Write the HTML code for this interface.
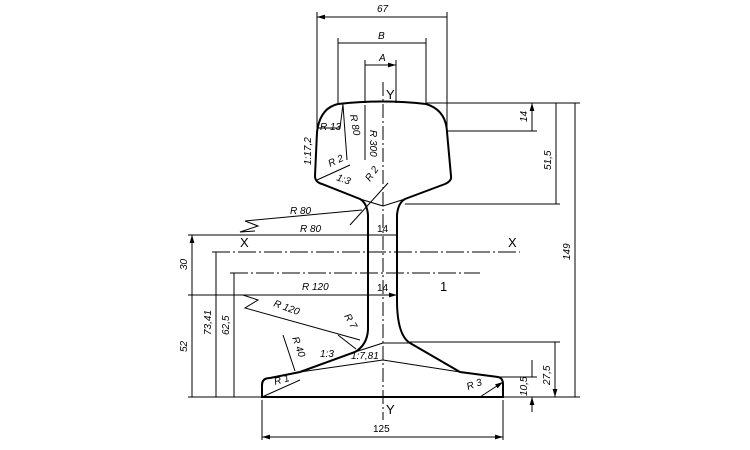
<!DOCTYPE html>
<html><head><style>body{margin:0;background:#fff}svg{display:block}</style></head><body>
<svg width="750" height="450" viewBox="0 0 750 450" xmlns="http://www.w3.org/2000/svg" font-family="Liberation Sans, sans-serif" font-size="10" fill="none" stroke="#000">
<defs><marker id="a" viewBox="0 0 10 6" refX="10" refY="3" markerWidth="8" markerHeight="5" orient="auto-start-reverse"><path d="M0,0L10,3L0,6Z" fill="#000" stroke="none"/></marker></defs>
<path stroke-width="2" d="M338,104 Q383,99 426,104 Q446,110 447,132 L451,176 Q452,181 445,184 L405,199 Q398,203 397,215 L397,300 Q397,335 410,343 L460,372 L498,377 Q503,378 503,384 L503,397 L262,397 L262,385 Q262,378 270,378 L300,372 L355,352 Q367,345 368,330 L368,215 Q367,203 360,199 L322,184 Q315,182 315,176 L317,132 Q320,108 338,104 Z"/>
<g stroke-width="1">
<path d="M300,372 L383,360 L460,372 M355,352 L383,343 L410,343 M360,199 L383,206 L405,199"/>
<path stroke-dasharray="14,3,2,3" d="M383,82 V420"/>
<path stroke-dasharray="18,3,2,3" d="M212,252 H520 M230,273 H480"/>
<path d="M317,12 V130 M447,12 V130 M338,38 V104 M426,38 V104 M365,60 V103 M396,60 V103"/>
<path marker-start="url(#a)" marker-end="url(#a)" d="M317,17 H447 M338,43 H426 M365,65 H396"/>
<path d="M426,103 H580 M447,131 H537 M405,204 H560 M410,342 H560 M498,377 H537 M503,397 H580"/>
<path marker-start="url(#a)" marker-end="url(#a)" d="M532,103 V131 M556,103 V204 M575,103 V397 M555,342 V397"/>
<path marker-end="url(#a)" d="M532,360 V377 M532,412 V397"/>
<path d="M188,235 H368 M188,295 H368 M188,397 H262"/>
<path marker-start="url(#a)" marker-end="url(#a)" d="M192,235 V295 M192,295 V397 M216,252 V397 M234,273 V397 M368,235 H397 M368,295 H397"/>
<path d="M262,400 V440 M503,400 V440"/>
<path marker-start="url(#a)" marker-end="url(#a)" d="M262,437 H503"/>
<path d="M245,221 L258,226 L240,232 L255,231 M245,221 L362,210"/>
<path d="M243,295 L258,300 L245,308 L360,340"/>
<path marker-end="url(#a)" d="M317,128 H340 M340,128 L343,104 M347,160 L343,105 M365,160 V105 M317,180 L350,165 M350,225 L388,183 M338,335 L356,349 M283,335 L295,371 M262,397 L300,380 M480,397 L503,382"/>
</g>
<g fill="#000" stroke="none" font-style="italic">
<text x="377" y="12">67</text><text x="378" y="39">B</text><text x="379" y="61">A</text>
<text x="320" y="130">R 13</text>
<text transform="translate(350,115) rotate(80)">R 80</text>
<text transform="translate(370,130) rotate(90)">R 300</text>
<text transform="translate(311,165) rotate(-90)">1:17,2</text>
<text transform="translate(330,167) rotate(-25)">R 2</text>
<text transform="translate(336,180) rotate(20)">1:3</text>
<text transform="translate(370,182) rotate(-55)">R 2</text>
<text x="290" y="214">R 80</text><text x="300" y="232">R 80</text>
<text x="302" y="290">R 120</text><text transform="translate(273,306) rotate(20)">R 120</text>
<text transform="translate(344,316) rotate(60)">R 7</text>
<text transform="translate(292,338) rotate(70)">R 40</text>
<text x="320" y="357">1:3</text><text x="351" y="359">1:7,81</text>
<text transform="translate(275,385) rotate(-15)">R 1</text>
<text transform="translate(468,390) rotate(-20)">R 3</text>
<text x="377" y="232" font-style="normal">14</text><text x="377" y="291" font-style="normal">14</text>
<text x="373" y="432" font-style="normal">125</text>
<text transform="translate(527,122) rotate(-90)">14</text>
<text transform="translate(551,170) rotate(-90)">51,5</text>
<text transform="translate(570,260) rotate(-90)">149</text>
<text transform="translate(550,385) rotate(-90)">27,5</text>
<text transform="translate(527,396) rotate(-90)">10,5</text>
<text transform="translate(187,270) rotate(-90)">30</text>
<text transform="translate(187,352) rotate(-90)">52</text>
<text transform="translate(211,335) rotate(-90)">73,41</text>
<text transform="translate(229,335) rotate(-90)">62,5</text>
</g>
<g fill="#000" stroke="none" font-size="13">
<text x="386" y="99">Y</text><text x="386" y="414">Y</text>
<text x="240" y="247">X</text><text x="508" y="247">X</text>
<text x="440" y="291">1</text>
</g>
</svg>
</body></html>
